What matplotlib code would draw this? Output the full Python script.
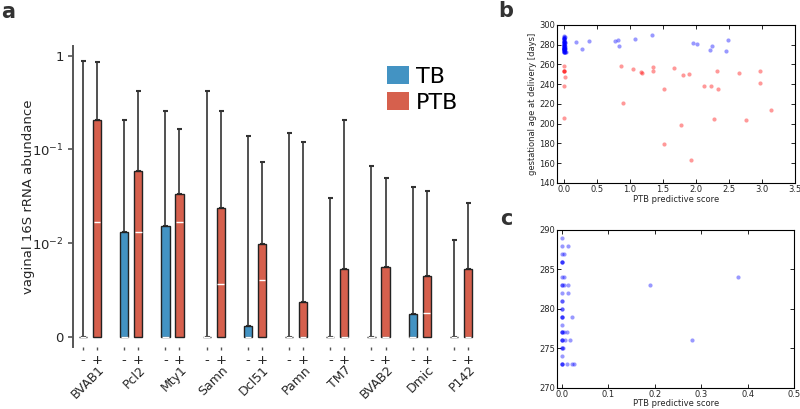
import matplotlib
matplotlib.use("Agg")
import matplotlib.pyplot as plt
from matplotlib.patches import Patch
import numpy as np

# ---- panel a: abundance per taxon, TB (-) vs PTB (+)
groups = ['BVAB1', 'Pcl2', 'Mty1', 'Samn', 'Dcl51', 'Pamn', 'TM7', 'BVAB2', 'Dmic', 'P142']
tb_upper = [0, 0.0132, 0.0153, 0, 0.0012, 0, 0, 0, 0.0025, 0]
tb_median = [0, 0, 0, 0, 0, 0, 0, 0, 0, 0]
tb_whisker = [0.885, 0.204, 0.26, 0.42, 0.139, 0.149, 0.030, 0.066, 0.040, 0.0109]
ptb_upper = [0.204, 0.0583, 0.0338, 0.0236, 0.0099, 0.0037, 0.0072, 0.0075, 0.0065, 0.0072]
ptb_median = [0.0167, 0.0132, 0.0167, 0.0057, 0.0061, 0, 0, 0, 0.0026, 0]
ptb_whisker = [0.86, 0.42, 0.165, 0.26, 0.074, 0.12, 0.204, 0.050, 0.036, 0.027]

# ---- panels b/c: predictive score vs gestational age
tb_score = [0, 0, 0.014, 0, 0.005, 0, 0, 0, 0, 0.004, 0.38, 0, 0, 0.004, 0.014, 0.19,
            0, 0.012, 0, 0, 0, 0, 0, 0, 0, 0.021, 0, 0, 0, 0, 0.004, 0.011,
            0, 0, 0, 0.007, 0.018, 0.28, 0, 0, 0.002, 0, 0, 0, 0, 0.011, 0.021, 0.025,
            0.77, 0.82, 0.835, 1.08, 1.34, 1.96, 2.02, 2.21, 2.24, 2.45, 2.49]
tb_age = [289, 288, 288, 287, 287, 286, 286, 286, 284, 284, 284, 283, 283, 283, 283, 283,
          282, 282, 281, 281, 280, 280, 279, 279, 279, 279, 278, 277, 277, 277, 277, 277,
          276, 276, 276, 276, 276, 276, 275, 275, 275, 274, 273, 273, 273, 273, 273, 273,
          284, 285, 279, 286, 290, 282, 281, 275, 279, 274, 285]
ptb_score = [0, 0, 0, 0, 0.01, 0, 0, 0.87, 0.895, 1.04, 1.17, 1.19, 1.355, 1.355, 1.51,
             1.52, 1.66, 1.775, 1.81, 1.89, 1.92, 2.12, 2.22, 2.27, 2.315, 2.34, 2.65,
             2.76, 2.97, 2.97, 3.13]
ptb_age = [258, 253, 253, 253, 247, 238, 206, 258, 221, 255, 252, 251, 257, 253, 235,
           179, 256, 199, 249, 250, 163, 238, 238, 205, 253, 235, 251,
           204, 253, 241, 214]

c_tb = '#4393c3'
c_ptb = '#d6604d'
txt = '#262626'

fig = plt.figure(figsize=(8, 4.09), dpi=100)

ax = fig.add_axes([0.0909, 0.1523, 0.511, 0.7352])
x = np.arange(len(groups))
off = 0.17
w = 0.2
for xs, up, med, wh, col in [(x - off, tb_upper, tb_median, tb_whisker, c_tb),
                             (x + off, ptb_upper, ptb_median, ptb_whisker, c_ptb)]:
    up = np.array(up)
    wh = np.array(wh)
    ax.errorbar(xs, up, yerr=[np.zeros_like(up), wh - up], fmt='none',
                ecolor='#333333', elinewidth=1.2, capsize=1.8, capthick=1.5, zorder=1)
    ax.bar(xs, up, width=w, color=col, edgecolor='#222222', linewidth=1.0, zorder=2)
    ax.hlines(med, xs - w / 2 + 0.02, xs + w / 2 - 0.02, color='white', linewidth=1.0, zorder=3)

ax.set_yscale('symlog', linthresh=0.01, linscale=0.9)
ax.set_ylim(-0.00104, 1.27)
ax.set_xlim(-0.42, 9.5)
ax.set_yticks([0, 0.01, 0.1, 1])
ax.set_yticklabels(['0', '$10^{-2}$', '$10^{-1}$', '1'])
ax.yaxis.set_minor_locator(matplotlib.ticker.NullLocator())
ticks = np.concatenate([x - off, x + off])
ax.set_xticks(ticks)
ax.set_xticklabels(['-'] * len(groups) + ['+'] * len(groups))
for s in ['top', 'right', 'bottom']:
    ax.spines[s].set_visible(False)
ax.spines['left'].set_color('#555555')
ax.spines['left'].set_linewidth(1.4)
ax.tick_params(axis='y', length=3.5, width=1.2, color='#555555', labelsize=9.5, labelcolor=txt, pad=3)
ax.tick_params(axis='x', length=2.5, width=1.0, color='#555555', labelsize=9.5, labelcolor=txt, pad=3)
ax.set_ylabel('vaginal 16S rRNA abundance', fontsize=9.5, color=txt, labelpad=-2)
for i, g in enumerate(groups):
    ax.text(i + 0.3, -0.07, g, transform=ax.get_xaxis_transform(), rotation=45,
            ha='right', va='center', rotation_mode='anchor', fontsize=9, color=txt)

fig.legend(handles=[Patch(facecolor=c_tb, edgecolor='none'),
                    Patch(facecolor=c_ptb, edgecolor='none')],
           labels=['TB', 'PTB'], loc='upper left', bbox_to_anchor=(387 / 800, 1 - 66 / 409),
           frameon=False, fontsize=16, handlelength=1.0, handleheight=0.85,
           handletextpad=0.3, labelspacing=0.25, borderpad=0, borderaxespad=0)


def classic(axx):
    for s in axx.spines.values():
        s.set_color('black')
        s.set_linewidth(0.8)
    axx.tick_params(direction='in', top=True, right=True, length=3, width=0.6,
                    labelsize=6, labelcolor=txt, pad=1.5)


bx = fig.add_axes([0.6966, 0.5526, 0.2972, 0.3863])
bx.plot(tb_score, tb_age, 'o', color='blue', alpha=0.4, markersize=3, markeredgewidth=0)
bx.plot(ptb_score, ptb_age, 'o', color='red', alpha=0.4, markersize=3, markeredgewidth=0)
bx.set_xlim(-0.1, 3.5)
bx.set_ylim(140, 300)
bx.set_xticks(np.arange(0, 3.51, 0.5))
bx.set_yticks(np.arange(140, 301, 20))
bx.set_xlabel('PTB predictive score', fontsize=6, color=txt, labelpad=1)
bx.set_ylabel('gestational age at delivery [days]', fontsize=6, color=txt, labelpad=1.5)
classic(bx)

cx = fig.add_axes([0.6966, 0.0521, 0.2962, 0.3856])
cx.plot(tb_score, tb_age, 'o', color='blue', alpha=0.4, markersize=3, markeredgewidth=0)
cx.set_xlim(-0.01, 0.5)
cx.set_ylim(270, 290)
cx.set_xticks(np.arange(0, 0.51, 0.1))
cx.set_yticks(np.arange(270, 291, 5))
cx.set_xlabel('PTB predictive score', fontsize=6, color=txt, labelpad=0.5)
classic(cx)

fig.text(8 / 800, 1 - 12 / 409, 'a', fontsize=15, fontweight='bold', color='#333333', va='center', ha='center')
fig.text(506 / 800, 1 - 11 / 409, 'b', fontsize=15, fontweight='bold', color='#333333', va='center', ha='center')
fig.text(506 / 800, 1 - 219 / 409, 'c', fontsize=15, fontweight='bold', color='#333333', va='center', ha='center')

fig.savefig('out.png', dpi=100)
